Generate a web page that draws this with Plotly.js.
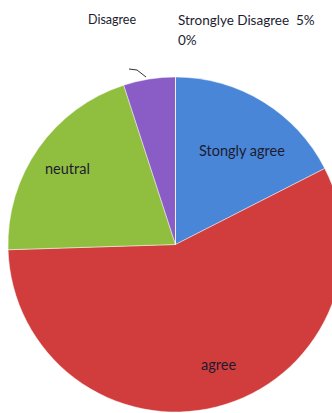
<!DOCTYPE html>
<html>
<head>
<meta charset="utf-8">
<script src="https://cdn.plot.ly/plotly-3.0.1.min.js"></script>
<style>
html,body{margin:0;padding:0;width:332px;height:413px;overflow:hidden;background:#fff;}
#chart{width:343px;height:413px;}
</style>
</head>
<body>
<div id="chart"></div>
<script>
const categories = ["Stongly agree", "agree", "neutral", "Disagree", "Stronglye Disagree"];
const values = [17.5, 57, 20.5, 5, 0];
const colors = ["#4a86d8", "#d13d3c", "#90bf40", "#8a5cc6", "#4bacc6"];
const outsideLabels = ["Disagree", "Stronglye Disagree  5%", "0%"];

const W = 343, H = 413;
const px = x => x / W;
const py = y => 1 - y / H;

const trace = {
  type: "pie",
  labels: categories,
  values: values,
  sort: false,
  direction: "clockwise",
  rotation: 0,
  marker: {colors: colors, line: {color: "rgba(255,255,255,0.45)", width: 1}},
  textinfo: "none",
  hoverinfo: "label+percent",
  showlegend: false,
  domain: {x: [8 / W, 1], y: [0, 1 - 76 / H]}
};

const fam = "Lato, 'Open Sans', sans-serif";
const inFont = {family: fam, size: 14.5, color: "#1c1c30"};
const outFont = {family: fam, size: 13.5, color: "#1c1c30"};
const annotations = [
  {text: categories[0], x: px(242), y: py(150), font: inFont},
  {text: categories[2], x: px(67), y: py(168), font: inFont},
  {text: categories[1], x: px(218), y: py(364), font: inFont},
  {text: outsideLabels[0], x: px(111.5), y: py(20), font: Object.assign({}, outFont, {size: 12.5})},
  {text: outsideLabels[1], x: px(176), y: py(20), xanchor: "left", font: outFont},
  {text: outsideLabels[2], x: px(176), y: py(40), xanchor: "left", font: outFont}
].map(a => Object.assign({xref: "paper", yref: "paper", showarrow: false, xanchor: "center", yanchor: "middle"}, a));

const shapes = [{
  type: "path", xref: "paper", yref: "paper",
  path: `M ${px(129)} ${py(69)} L ${px(137)} ${py(70)} L ${px(146)} ${py(77)}`,
  line: {color: "#333", width: 1}
}];

Plotly.newPlot("chart", [trace], {
  width: W, height: H,
  margin: {l: 0, r: 0, t: 0, b: 0},
  paper_bgcolor: "#fff",
  annotations: annotations,
  shapes: shapes
}, {displayModeBar: false, staticPlot: true});
</script>
</body>
</html>
